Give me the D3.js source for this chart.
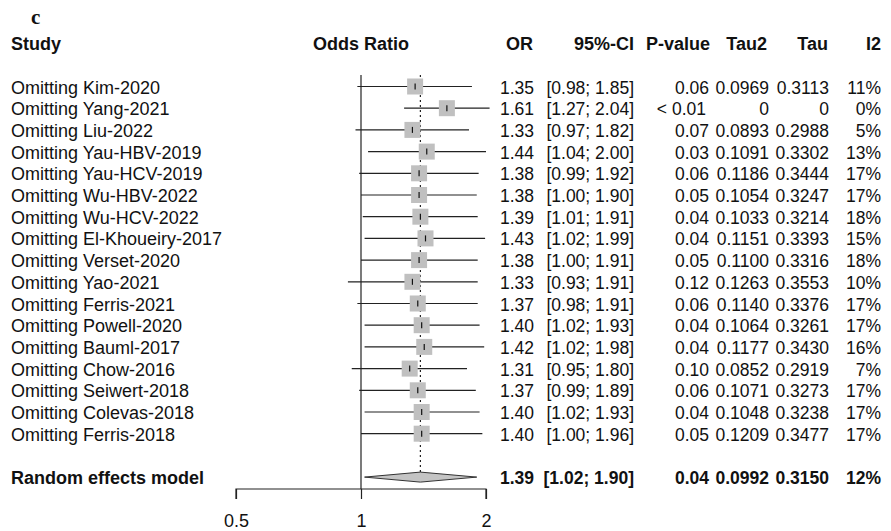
<!DOCTYPE html>
<html>
<head>
<meta charset="utf-8">
<script src="https://cdn.jsdelivr.net/npm/d3@7"></script>
<style>
  body { margin: 0; background: #fff; }
  svg { display: block; }
  text { font-family: "Liberation Sans", Arial, Helvetica, sans-serif; fill: #111; }
</style>
</head>
<body>
<script>
const studies = ['Kim-2020', 'Yang-2021', 'Liu-2022', 'Yau-HBV-2019', 'Yau-HCV-2019',
  'Wu-HBV-2022', 'Wu-HCV-2022', 'El-Khoueiry-2017', 'Verset-2020', 'Yao-2021',
  'Ferris-2021', 'Powell-2020', 'Bauml-2017', 'Chow-2016', 'Seiwert-2018',
  'Colevas-2018', 'Ferris-2018'];
const oddsRatio = [1.35, 1.61, 1.33, 1.44, 1.38, 1.38, 1.39, 1.43, 1.38, 1.33, 1.37, 1.40, 1.42, 1.31, 1.37, 1.40, 1.40];
const lower = [0.98, 1.27, 0.97, 1.04, 0.99, 1.00, 1.01, 1.02, 1.00, 0.93, 0.98, 1.02, 1.02, 0.95, 0.99, 1.02, 1.00];
const upper = [1.85, 2.04, 1.82, 2.00, 1.92, 1.90, 1.91, 1.99, 1.91, 1.91, 1.91, 1.93, 1.98, 1.80, 1.89, 1.93, 1.96];
const pValues = ['0.06', '< 0.01', '0.07', '0.03', '0.06', '0.05', '0.04', '0.04', '0.05', '0.12', '0.06', '0.04', '0.04', '0.10', '0.06', '0.04', '0.05'];
const tau2 = ['0.0969', '0', '0.0893', '0.1091', '0.1186', '0.1054', '0.1033', '0.1151', '0.1100', '0.1263', '0.1140', '0.1064', '0.1177', '0.0852', '0.1071', '0.1048', '0.1209'];
const tau = ['0.3113', '0', '0.2988', '0.3302', '0.3444', '0.3247', '0.3214', '0.3393', '0.3316', '0.3553', '0.3376', '0.3261', '0.3430', '0.2919', '0.3273', '0.3238', '0.3477'];
const i2 = ['11%', '0%', '5%', '13%', '17%', '17%', '18%', '15%', '18%', '10%', '17%', '17%', '16%', '7%', '17%', '17%', '17%'];

const pooled = { label: 'Random effects model', or: 1.39, lower: 1.02, upper: 1.90, p: '0.04', tau2: '0.0992', tau: '0.3150', i2: '12%' };
const axisTicks = [0.5, 1, 2];

const width = 891, height = 531;
const fs = '18px';
const fsNum = '17.5px';
const svg = d3.select('body').append('svg')
  .attr('width', width)
  .attr('height', height);

const x = d3.scaleLog().domain([0.5, 2]).range([236, 486]);
const y = d3.scaleLinear().domain([0, 18]).range([86.5, 477.1]);
const pooledRow = 18;

let rows = studies.map((s, i) => ({
  label: 'Omitting ' + s,
  or: oddsRatio[i], lower: lower[i], upper: upper[i],
  p: pValues[i], tau2: tau2[i], tau: tau[i], i2: i2[i], row: i
}));

// panel letter and headers
svg.append('text').attr('x', 31).attr('y', 24)
  .style('font-family', '"Liberation Serif", "DejaVu Serif", serif')
  .style('font-weight', 'bold').style('font-size', '21px').text('c');

const headers = [
  { t: 'Study', x: 11, anchor: 'start' },
  { t: 'Odds Ratio', x: 361, anchor: 'middle' },
  { t: 'OR', x: 533, anchor: 'end' },
  { t: '95%-CI', x: 634, anchor: 'end' },
  { t: 'P-value', x: 710, anchor: 'end' },
  { t: 'Tau2', x: 767, anchor: 'end' },
  { t: 'Tau', x: 828, anchor: 'end' },
  { t: 'I2', x: 881, anchor: 'end' }
];
svg.selectAll('.hdr').data(headers).enter().append('text')
  .attr('x', d => d.x).attr('y', 50)
  .attr('text-anchor', d => d.anchor)
  .style('font-weight', 'bold').style('font-size', fs)
  .text(d => d.t);

// reference line at OR = 1
svg.append('line')
  .attr('x1', x(1)).attr('x2', x(1))
  .attr('y1', 75).attr('y2', 489)
  .attr('stroke', '#222').attr('stroke-width', 1.2);

// dotted line at pooled estimate
svg.append('line')
  .attr('x1', x(pooled.or)).attr('x2', x(pooled.or))
  .attr('y1', 75).attr('y2', y(pooledRow) - 5)
  .attr('stroke', '#222').attr('stroke-width', 1.2)
  .attr('stroke-dasharray', '2,3');

// confidence intervals
svg.selectAll('.ci').data(rows).enter().append('line')
  .attr('x1', d => x(d.lower)).attr('x2', d => x(d.upper))
  .attr('y1', d => y(d.row)).attr('y2', d => y(d.row))
  .attr('stroke', '#222').attr('stroke-width', 1.2);

// squares
const sq = 16;
svg.selectAll('.sq').data(rows).enter().append('rect')
  .attr('x', d => x(d.or) - sq / 2).attr('y', d => y(d.row) - sq / 2)
  .attr('width', sq).attr('height', sq)
  .attr('fill', '#c0c0c0');

svg.selectAll('.tick-mark').data(rows).enter().append('line')
  .attr('x1', d => x(d.or)).attr('x2', d => x(d.or))
  .attr('y1', d => y(d.row) - 3).attr('y2', d => y(d.row) + 3)
  .attr('stroke', '#111').attr('stroke-width', 1.2);

// pooled diamond
const py = y(pooledRow);
svg.append('polygon')
  .attr('points', [[x(pooled.lower), py], [x(pooled.or), py - 5], [x(pooled.upper), py], [x(pooled.or), py + 5]].join(' '))
  .attr('fill', '#c4c4c4').attr('stroke', '#333').attr('stroke-width', 1);

// x axis
const axis = svg.append('g').attr('transform', 'translate(0,489)')
  .call(d3.axisBottom(x).tickValues(axisTicks).tickFormat(d3.format('')).tickSize(10));
axis.select('.domain').attr('stroke', '#222').attr('stroke-width', 1.2)
  .attr('d', `M${x(0.5)},10V0H${x(2)}V10`);
axis.selectAll('.tick line').attr('stroke', '#222').attr('stroke-width', 1.2);
axis.selectAll('.tick text')
  .attr('y', 38).attr('dy', 0)
  .style('font-size', fs).style('font-family', '"Liberation Sans", Arial, sans-serif').attr('fill', '#111');

// text columns
const all = rows.concat([Object.assign({ row: pooledRow, bold: true }, pooled)]);
const f2 = d3.format('.2f');
const cols = [
  { x: 11, anchor: 'start', size: fs, v: d => d.label },
  { x: 534, anchor: 'end', size: fsNum, v: d => f2(d.or) },
  { x: 634, anchor: 'end', size: fsNum, v: d => `[${f2(d.lower)}; ${f2(d.upper)}]` },
  { x: 709, anchor: 'end', size: fsNum, v: d => d.p },
  { x: 769, anchor: 'end', size: fsNum, v: d => d.tau2 },
  { x: 829, anchor: 'end', size: fsNum, v: d => d.tau },
  { x: 881, anchor: 'end', size: fsNum, v: d => d.i2 }
];
cols.forEach(c => {
  svg.selectAll(null).data(all).enter().append('text')
    .attr('x', d => (c.v(d).startsWith('<') ? c.x - 3 : c.x))
    .attr('y', d => y(d.row) + 7)
    .attr('text-anchor', c.anchor)
    .style('font-size', c.size)
    .style('font-weight', d => d.bold ? 'bold' : 'normal')
    .text(c.v);
});
</script>
</body>
</html>
